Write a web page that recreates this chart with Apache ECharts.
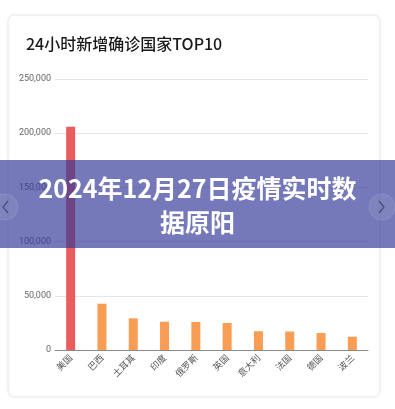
<!DOCTYPE html>
<html>
<head>
<meta charset="utf-8">
<script src="https://cdn.jsdelivr.net/npm/echarts@6/dist/echarts.min.js"></script>
<style>
html,body{margin:0;padding:0;background:#fff;}
#c{width:395px;height:409px;}
</style>
</head>
<body>
<div id="c"></div>
<script>
const categories = ['美国','巴西','土耳其','印度','俄罗斯','英国','意大利','法国','德国','波兰'];
const values = [206000, 42700, 29200, 26100, 25800, 24900, 17300, 17100, 15700, 12300];
const yTicks = [0, 50000, 100000, 150000, 200000, 250000];
const titleText = '24小时新增确诊国家TOP10';
const bannerText = '2024年12月27日疫情实时数\n据原阳';

const FONT = '"Noto Sans CJK SC", "Noto Sans", sans-serif';
const chart = echarts.init(document.getElementById('c'), null, {renderer: 'canvas'});
chart.setOption({
  backgroundColor: '#fff',
  animation: false,
  textStyle: {fontFamily: FONT},
  title: {
    text: titleText,
    left: 21, top: 31,
    textStyle: {fontSize: 16, fontWeight: 500, color: '#1a1a1a', fontFamily: FONT}
  },
  grid: {left: 55, right: 27, top: 79, bottom: 59, containLabel: false},
  xAxis: {
    type: 'category',
    data: categories,
    axisLine: {lineStyle: {color: '#8a8a8a', width: 1}},
    axisTick: {show: false},
    axisLabel: {rotate: 45, interval: 0, fontSize: 9, color: '#555', margin: 6, fontFamily: FONT}
  },
  yAxis: {
    type: 'value',
    min: yTicks[0], max: yTicks[yTicks.length - 1], interval: 50000,
    axisLine: {show: false},
    axisTick: {show: false},
    splitLine: {lineStyle: {color: '#e6e6e6'}},
    axisLabel: {
      fontSize: 9, color: '#666', margin: 4, fontFamily: 'Roboto, sans-serif',
      formatter: v => v.toLocaleString('en-US')
    }
  },
  series: [{
    type: 'bar',
    data: values.map((v, i) => ({value: v, itemStyle: {color: i === 0 ? '#EA5C5E' : '#F99C54'}})),
    barWidth: 9
  }],
  graphic: [
    {type: 'rect', z: -10, silent: true,
     shape: {x: 8, y: 15, width: 372, height: 382, r: 6},
     style: {fill: 'rgba(0,0,0,0)', stroke: '#e8e8e8', lineWidth: 1, shadowBlur: 3, shadowColor: 'rgba(0,0,0,0.06)'}},
    {type: 'rect', z: 100, silent: true,
     shape: {x: 0, y: 160, width: 395, height: 88},
     style: {fill: 'rgba(52,58,152,0.68)'}},
    {type: 'circle', z: 101, silent: true,
     shape: {cx: 5, cy: 207, r: 13},
     style: {fill: 'rgba(255,255,255,0.08)', stroke: 'rgba(255,255,255,0.12)', lineWidth: 1}},
    {type: 'polyline', z: 102, silent: true,
     shape: {points: [[8, 201], [3, 207], [8, 213]]},
     style: {stroke: 'rgba(60,60,110,0.8)', lineWidth: 1.2, fill: null}},
    {type: 'circle', z: 101, silent: true,
     shape: {cx: 382, cy: 207, r: 13},
     style: {fill: 'rgba(255,255,255,0.08)', stroke: 'rgba(255,255,255,0.12)', lineWidth: 1}},
    {type: 'polyline', z: 102, silent: true,
     shape: {points: [[379, 201], [384, 207], [379, 213]]},
     style: {stroke: 'rgba(60,60,110,0.8)', lineWidth: 1.2, fill: null}},
    {type: 'text', z: 103, silent: true,
     x: 197.5, y: 205,
     style: {text: bannerText, fill: '#fff', font: 'bold 25px ' + FONT,
             align: 'center', verticalAlign: 'middle', lineHeight: 34}}
  ]
});
</script>
</body>
</html>
